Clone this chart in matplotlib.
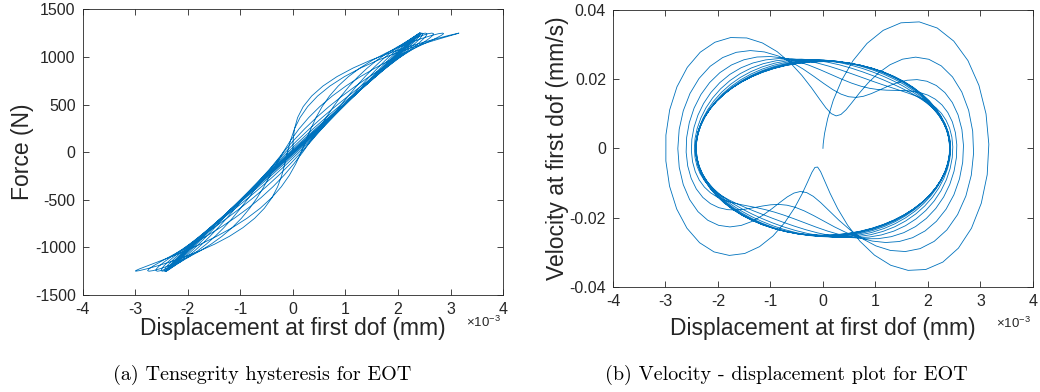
import numpy as np
import matplotlib.pyplot as plt

plt.rcParams['font.family'] = ['Liberation Sans', 'DejaVu Sans']
plt.rcParams['axes.unicode_minus'] = False
plt.rcParams['mathtext.fontset'] = 'custom'
plt.rcParams['mathtext.rm'] = 'Liberation Sans'

# values
force_amp = 1250.0        # N, flat tips of the hysteresis
disp_amp = 2.43           # x1e-3 mm, steady-state amplitude
vel_amp = 0.025           # mm/s, steady-state velocity amplitude
mode_ratio = 2.95         # second-mode / forcing frequency
decay = 0.075             # transient decay per radian of forcing
n_cycles = 12
pts_per_cycle = 64

x_ticks = [-4, -3, -2, -1, 0, 1, 2, 3, 4]
f_ticks = [-1500, -1000, -500, 0, 500, 1000, 1500]
v_ticks = [-0.04, -0.02, 0, 0.02, 0.04]
v_ticklabels = ['-0.04', '-0.02', '0', '0.02', '0.04']

omega = vel_amp / (disp_amp * 1e-3)
theta = np.linspace(0, 2 * np.pi * n_cycles, n_cycles * pts_per_cycle + 1)
d = disp_amp / mode_ratio * np.exp(-decay * theta)
disp = disp_amp * np.sin(theta) - d * np.sin(mode_ratio * theta)
ddisp = (disp_amp * np.cos(theta) - d * mode_ratio * np.cos(mode_ratio * theta)
         + decay * d * np.sin(mode_ratio * theta))
vel = omega * ddisp * 1e-3
force = force_amp * np.sin(theta)

blue = '#0072BD'
grey = '#262626'

fig = plt.figure(figsize=(10.4, 3.92), dpi=100)
ax1 = fig.add_axes([0.0795, 0.2474, 0.4042, 0.7289])
ax2 = fig.add_axes([0.5894, 0.2686, 0.4038, 0.7059])

ax1.plot(disp, force, color=blue, lw=0.6)
ax1.set_xlim(-4, 4)
ax1.set_ylim(-1500, 1500)
ax1.set_yticks(f_ticks)
ax1.set_ylabel('Force (N)', fontsize=16.5, color=grey, va='center')
ax1.yaxis.set_label_coords(-0.144, 0.5)
ax1.set_xlabel('Displacement at first dof (mm)', fontsize=16.5, color=grey, va='center')
ax1.xaxis.set_label_coords(0.5, -0.118)

ax2.plot(disp, vel, color=blue, lw=0.6)
ax2.set_xlim(-4, 4)
ax2.set_ylim(-0.04, 0.04)
ax2.set_yticks(v_ticks)
ax2.set_yticklabels(v_ticklabels)
ax2.set_ylabel('Velocity at first dof (mm/s)', fontsize=16.5, color=grey, va='center')
ax2.yaxis.set_label_coords(-0.133, 0.5)
ax2.set_xlabel('Displacement at first dof (mm)', fontsize=16.5, color=grey, va='center')
ax2.xaxis.set_label_coords(0.5, -0.152)

for ax, ey in ((ax1, -0.097), (ax2, -0.131)):
    ax.set_xticks(x_ticks)
    ax.set_xticklabels([str(t) for t in x_ticks])
    ax.tick_params(direction='in', length=4, width=0.6, top=True, right=True,
                   labelsize=11.5, colors=grey, pad=5)
    for s in ax.spines.values():
        s.set_color(grey)
        s.set_linewidth(0.6)
    ax.text(0.912, ey, r'$\times10^{-3}$', transform=ax.transAxes,
            fontsize=9.5, color=grey, ha='left', va='center')

fig.text(0.252, 0.043, '(a) Tensegrity hysteresis for EOT', family='cmr10',
         fontsize=14.5, ha='center', va='center')
fig.text(0.756, 0.043, '(b) Velocity - displacement plot for EOT', family='cmr10',
         fontsize=14.5, ha='center', va='center')

fig.savefig('out.png', dpi=100)
